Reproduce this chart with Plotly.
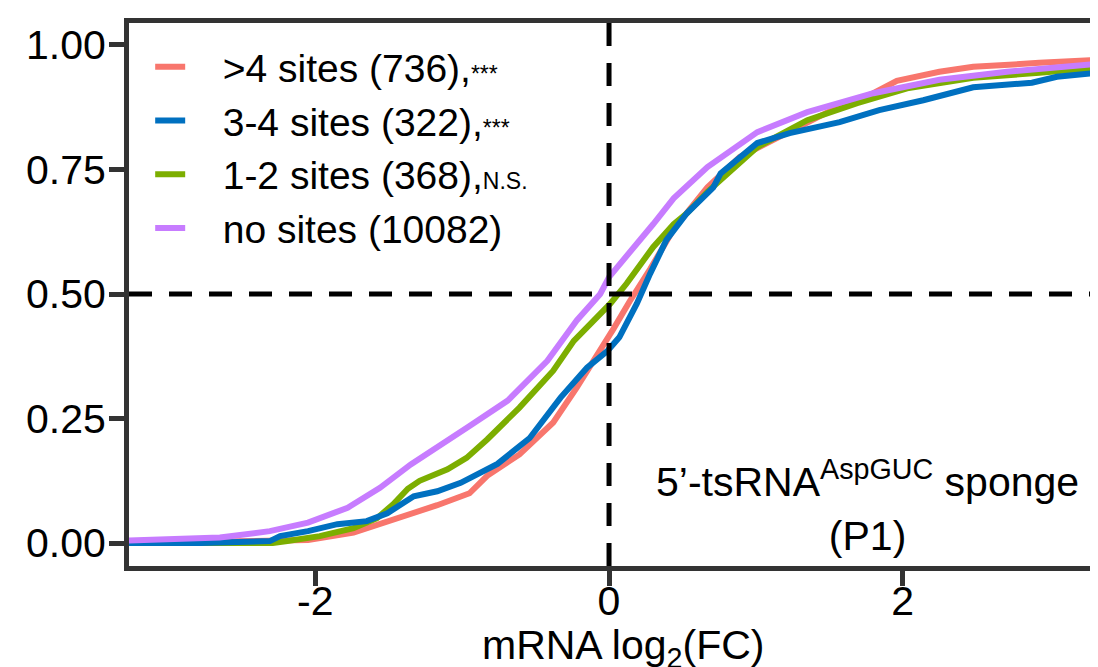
import plotly.graph_objects as go

# ECDF curves (x = mRNA log2 fold change, y = cumulative fraction)
red_x = [-3.4, -2.6, -2.05, -1.74, -1.58, -1.40, -1.17, -0.95, -0.83, -0.61, -0.38, -0.22, -0.06,
         0.03, 0.14, 0.28, 0.44, 0.67, 0.89, 1.12, 1.35, 1.57, 1.80, 1.96, 2.25, 2.48, 2.93, 3.4]
red_y = [0.0, 0.002, 0.006, 0.021, 0.036, 0.056, 0.076, 0.100, 0.135, 0.178, 0.242, 0.312, 0.386,
         0.430, 0.485, 0.550, 0.630, 0.714, 0.775, 0.809, 0.845, 0.877, 0.903, 0.928, 0.946, 0.956, 0.964, 0.971]

blue_x = [-3.4, -2.78, -2.31, -2.24, -2.05, -1.85, -1.65, -1.51, -1.33, -1.17, -1.01, -0.88, -0.76,
          -0.54, -0.33, -0.15, -0.01, 0.07, 0.19, 0.28, 0.39, 0.53, 0.71, 0.76, 1.01, 1.23, 1.57, 1.84,
          2.14, 2.48, 2.88, 3.05, 3.4]
blue_y = [0.0, 0.0, 0.004, 0.014, 0.024, 0.038, 0.044, 0.060, 0.094, 0.104, 0.121, 0.141, 0.159,
          0.211, 0.292, 0.352, 0.386, 0.413, 0.481, 0.541, 0.608, 0.662, 0.714, 0.742, 0.803, 0.823, 0.845, 0.869,
          0.889, 0.915, 0.924, 0.936, 0.946]

green_x = [-3.4, -2.76, -2.29, -2.19, -1.97, -1.74, -1.58, -1.47, -1.37, -1.29, -1.10, -0.97, -0.83,
           -0.61, -0.38, -0.24, -0.11, 0.01, 0.12, 0.21, 0.30, 0.44, 0.53, 0.67, 1.01, 1.35, 1.69, 2.03,
           2.48, 2.93, 3.4]
green_y = [0.0, 0.0, 0.0, 0.004, 0.014, 0.030, 0.050, 0.078, 0.109, 0.125, 0.148, 0.171, 0.208,
           0.272, 0.346, 0.406, 0.447, 0.481, 0.521, 0.560, 0.594, 0.640, 0.662, 0.705, 0.795, 0.849, 0.883, 0.913,
           0.934, 0.944, 0.956]

purple_x = [-3.4, -2.9, -2.65, -2.31, -2.05, -1.78, -1.56, -1.35, -1.15, -0.95, -0.69, -0.42, -0.22,
            -0.06, 0.0, 0.19, 0.30, 0.44, 0.67, 1.01, 1.35, 1.80, 2.25, 2.71, 3.4]
purple_y = [0.004, 0.007, 0.011, 0.024, 0.041, 0.071, 0.111, 0.158, 0.195, 0.235, 0.286, 0.366, 0.447,
            0.500, 0.534, 0.600, 0.640, 0.692, 0.755, 0.825, 0.865, 0.903, 0.930, 0.946, 0.964]

x_ticks = [-2, 0, 2]
x_ticktext = ["-2", "0", "2"]
y_ticks = [0, 0.25, 0.5, 0.75, 1.0]

small = '<span style="font-size:23px">%s</span>'
pad = "\u00a0\u00a0\u00a0"
names = {
    "red": pad + ">4 sites (736)," + small % "***",
    "blue": pad + "3-4 sites (322)," + small % "***",
    "green": pad + "1-2 sites (368)," + small % "N.S.",
    "purple": pad + "no sites (10082)",
}
colors = {"red": "#F8766D", "blue": "#0070C0", "green": "#7CAE00", "purple": "#C77CFF"}
rank = {"red": 1, "blue": 2, "green": 3, "purple": 4}

FONT = "Liberation Sans, Arial, sans-serif"

fig = go.Figure()
for key, xs, ys in [("red", red_x, red_y), ("green", green_x, green_y),
                    ("blue", blue_x, blue_y), ("purple", purple_x, purple_y)]:
    fig.add_trace(go.Scatter(x=xs, y=ys, mode="lines", name=names[key], legendrank=rank[key],
                             line=dict(color=colors[key], width=6)))

# reference lines
fig.add_shape(type="line", xref="x", yref="paper", x0=0, x1=0, y0=1, y1=0,
              line=dict(color="black", width=5, dash="23px,17px"))
fig.add_shape(type="line", xref="paper", yref="y", x0=0, x1=1, y0=0.5, y1=0.5,
              line=dict(color="black", width=5, dash="23px,17px"))

fig.add_annotation(text="5\u2019-tsRNA<sup>AspGUC</sup> sponge<br>(P1)", xref="paper", yref="paper",
                   x=0.767, y=0.009, xanchor="center", yanchor="bottom", showarrow=False,
                   font=dict(size=41, color="black", family=FONT))
fig.add_annotation(text="mRNA log<sub>2</sub>(FC)", xref="paper", yref="paper",
                   x=0.514, y=-0.10, xanchor="center", yanchor="top", showarrow=False,
                   font=dict(size=41, color="black", family=FONT))

axis_common = dict(showline=True, linewidth=5, linecolor="#333333", mirror=True,
                   ticks="outside", ticklen=15, tickwidth=5, tickcolor="#333333",
                   showgrid=False, zeroline=False, automargin=False,
                   tickfont=dict(size=41, color="black", family=FONT))
fig.update_xaxes(range=[-3.269, 3.289], tickvals=x_ticks, ticktext=x_ticktext,
                 ticklabelstandoff=-20, **axis_common)
fig.update_yaxes(range=[-0.046, 1.044], tickvals=y_ticks, tickformat=".2f",
                 ticklabelstandoff=-5, **axis_common)

# page body adds an 8px offset, so the figure is 8px smaller than the window
fig.update_layout(
    width=1090, height=659,
    margin=dict(l=120.5, r=5.5, t=15, b=101),
    plot_bgcolor="white", paper_bgcolor="white",
    font=dict(family=FONT, color="black"),
    legend=dict(x=0.022, y=0.978, xanchor="left", yanchor="top", bgcolor="rgba(0,0,0,0)",
                font=dict(size=39, color="black", family=FONT)),
)

fig.write_html("out.html")
